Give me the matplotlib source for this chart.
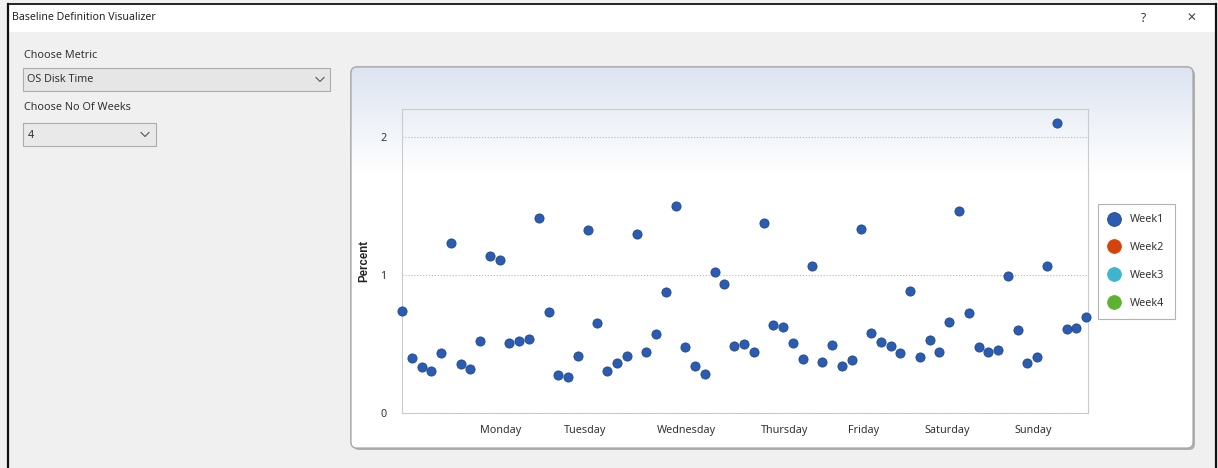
import numpy as np
import matplotlib
matplotlib.use("Agg")
import matplotlib.pyplot as plt
from matplotlib.patches import Rectangle, FancyBboxPatch

plt.rcParams.update({
    "font.family": ["Noto Sans", "DejaVu Sans"],
    "font.size": 7.8,
    "text.color": "#333333",
})

# ---- data ----
week1 = [0.736, 0.399, 0.333, 0.307, 0.435, 1.227, 0.352, 0.319, 0.519, 1.135,
         1.104, 0.509, 0.519, 0.536, 1.408, 0.732, 0.278, 0.258, 0.415, 1.321,
         0.649, 0.307, 0.359, 0.415, 1.292, 0.442, 0.575, 0.874, 1.497, 0.480,
         0.343, 0.283, 1.024, 0.930, 0.483, 0.500, 0.444, 1.377, 0.640, 0.623,
         0.507, 0.393, 1.067, 0.370, 0.493, 0.343, 0.384, 1.328, 0.577, 0.517,
         0.483, 0.435, 0.884, 0.408, 0.531, 0.444, 0.659, 1.461, 0.727, 0.478,
         0.444, 0.459, 0.995, 0.604, 0.359, 0.408, 1.067, 2.101, 0.609, 0.618,
         0.698]
week2 = []
week3 = []
week4 = []
series_names = ["Week1", "Week2", "Week3", "Week4"]
series_colors = ["#2b5cb0", "#d4420e", "#3db5cc", "#5db232"]

day_labels = ["Monday", "Tuesday", "Wednesday", "Thursday", "Friday", "Saturday", "Sunday"]
day_pos = [10.13, 18.77, 29.15, 39.16, 47.2, 55.84, 64.57]

y_ticks = [0, 1, 2]
metric_choice = "OS Disk Time"
weeks_choice = "4"

W, H = 1218, 468
fig = plt.figure(figsize=(W / 100, H / 100), dpi=100, facecolor="#f0f0f0")

# ---- dialog chrome drawn in pixel coordinates ----
ui = fig.add_axes([0, 0, 1, 1], zorder=0)
ui.set_xlim(0, W)
ui.set_ylim(H, 0)
ui.axis("off")

ui.add_patch(Rectangle((8, 4), 1208, 28, facecolor="white", edgecolor="none"))
ui.plot([8, 1216], [4, 4], color="black", lw=1.2)
ui.plot([8, 8], [4, H], color="#111111", lw=1.6)
ui.plot([1216, 1216], [4, H], color="#111111", lw=1.6)
ui.text(12, 18, "Baseline Definition Visualizer", fontsize=7.6, va="center", color="#222222")
ui.text(1143, 18, "?", fontsize=8.5, va="center", ha="center", color="#333333")
ui.text(1191, 18, "\u2715", fontsize=8.5, va="center", ha="center", color="#444444",
        family="DejaVu Sans")

ui.text(24, 55, "Choose Metric", fontsize=7.8, va="center")
ui.add_patch(Rectangle((23, 68), 307, 23, facecolor="#e6e6e6", edgecolor="#adadad", lw=0.8))
ui.text(27, 80, metric_choice, fontsize=7.8, va="center")
ui.plot([316, 320, 324], [77.5, 81.5, 77.5], color="#555555", lw=0.8)

ui.text(24, 108, "Choose No Of Weeks", fontsize=7.8, va="center")
ui.add_patch(Rectangle((23, 123), 133, 23, facecolor="#e9e9e9", edgecolor="#adadad", lw=0.8))
ui.text(28, 135, weeks_choice, fontsize=7.8, va="center")
ui.plot([141, 145, 149], [132.5, 136.5, 132.5], color="#555555", lw=0.8)

# chart panel with shadow and top gradient
px0, py0, px1, py1 = 351, 67, 1193, 448
shadow = FancyBboxPatch((px0 + 2, py0 + 2), px1 - px0, py1 - py0,
                        boxstyle="round,pad=0,rounding_size=6",
                        facecolor="#b0b0b0", edgecolor="none")
ui.add_patch(shadow)
panel = FancyBboxPatch((px0, py0), px1 - px0, py1 - py0,
                       boxstyle="round,pad=0,rounding_size=6",
                       facecolor="white", edgecolor="#a8a8a8", lw=0.9)
ui.add_patch(panel)
rows = np.linspace(0, 1, 200)
t = np.clip(rows * (py1 - py0) / 105.0, 0, 1)[:, None]
top = np.array([0.865, 0.895, 0.945])
grad = top * (1 - t) + np.ones(3) * t
img = ui.imshow(grad[:, None, :].repeat(2, axis=1), extent=[px0, px1, py1, py0],
                aspect="auto", zorder=2, interpolation="bilinear")
img.set_clip_path(panel)
ui.add_patch(FancyBboxPatch((px0, py0), px1 - px0, py1 - py0,
                            boxstyle="round,pad=0,rounding_size=6",
                            facecolor="none", edgecolor="#a8a8a8", lw=0.9, zorder=3))

# ---- scatter plot ----
ax = fig.add_axes([402 / W, 1 - 413 / H, 686 / W, 304 / H], zorder=2)
ax.patch.set_alpha(0)
for s in ax.spines.values():
    s.set_color("#c8ccd2")
    s.set_linewidth(0.8)

all_series = [week1, week2, week3, week4]
handles = []
for name, vals, col in zip(series_names, all_series, series_colors):
    xs = np.arange(len(vals))
    h, = ax.plot(xs, vals, "o", ms=6.6, color=col, mec="#1e4890" if name == "Week1" else col,
                 mew=0.6, ls="none", clip_on=False, label=name, zorder=3)
    handles.append(h)

ax.set_xlim(0, 70.2)
ax.set_ylim(0, 2.2)
ax.set_yticks(y_ticks)
ax.set_yticklabels([str(v) for v in y_ticks])
ax.set_xticks(day_pos)
ax.set_xticklabels(day_labels)
ax.tick_params(axis="both", length=0, labelsize=7.8, colors="#333333")
ax.tick_params(axis="y", pad=11)
ax.tick_params(axis="x", pad=9)
ax.grid(axis="y", linestyle=":", color="#b8b8b8", linewidth=0.8)
ax.set_axisbelow(True)
ax.set_ylabel("Percent", fontsize=8.3, fontweight="bold", color="#222222",
              family="Liberation Sans")
ax.yaxis.set_label_coords(-0.047, 0.5)

leg = fig.legend(handles=handles, labels=series_names,
                 loc="upper left", bbox_to_anchor=(1098 / W, 1 - 204 / H),
                 frameon=True, fancybox=False, edgecolor="#a0a0a0", facecolor="white",
                 markerscale=1.5, handlelength=1.0, handletextpad=1.0,
                 labelspacing=1.55, borderpad=0.95, borderaxespad=0, fontsize=7.8)
leg.get_frame().set_linewidth(0.8)
leg.set_zorder(5)

fig.savefig("out.png", dpi=100, facecolor=fig.get_facecolor())
